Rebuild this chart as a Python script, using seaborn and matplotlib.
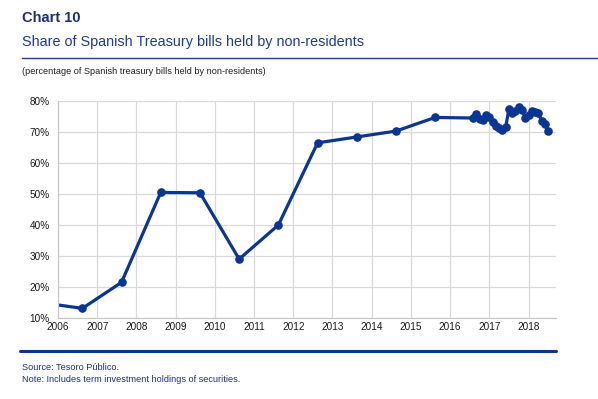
import matplotlib
matplotlib.use("Agg")
import matplotlib.pyplot as plt
import seaborn as sns
import pandas as pd
import numpy as np
from matplotlib.ticker import FuncFormatter

# Data (decimal years, % of Spanish Treasury bills held by non-residents)
years = [2005.62, 2006.62, 2007.62, 2008.62, 2009.62, 2010.62, 2011.62,
         2012.62, 2013.62, 2014.62, 2015.62]
annual_share = [14.9, 13.1, 21.5, 50.5, 50.4, 29.0, 40.0, 66.5, 68.4, 70.3, 74.7]

months_2016_2018 = ["2016-08", "2016-09", "2016-10", "2016-11", "2016-12",
                    "2017-01", "2017-02", "2017-03", "2017-04", "2017-05", "2017-06",
                    "2017-07", "2017-08", "2017-09", "2017-10", "2017-11", "2017-12",
                    "2018-01", "2018-02", "2018-03", "2018-04", "2018-05", "2018-06",
                    "2018-07"]
monthly_share = [74.5, 75.8, 74.3, 73.8, 75.6, 74.8, 73.3, 71.8, 71.2, 70.8, 71.5,
                 77.5, 76.0, 76.8, 78.2, 77.2, 74.6, 75.5, 76.8, 76.5, 76.2, 73.5,
                 72.5, 70.3]

x_ticks = list(range(2006, 2019))
y_ticks = [10, 20, 30, 40, 50, 60, 70, 80]

def month_to_dec(m):
    y, mo = m.split("-")
    return int(y) + (int(mo) - 1) / 12.0

x_all = years + [month_to_dec(m) for m in months_2016_2018]
y_all = annual_share + monthly_share
df = pd.DataFrame({"year": x_all, "share": y_all})

sns.set_style("white")
plt.rcParams["font.family"] = ["Liberation Sans", "DejaVu Sans"]

fig = plt.figure(figsize=(5.98, 3.99), dpi=100)
W, H = 598, 399
ax = fig.add_axes([58 / W, 1 - 318 / H, (556 - 58) / W, (318 - 101) / H])

line_color = "#0b3592"
sns.lineplot(data=df, x="year", y="share", ax=ax, color=line_color,
             linewidth=2.3, marker="o", markersize=6.2, markeredgewidth=0,
             sort=False)

ax.set_xlim(2006, 2018.7)
ax.set_ylim(10, 80)
ax.set_xticks(x_ticks)
ax.set_yticks(y_ticks)
ax.yaxis.set_major_formatter(FuncFormatter(lambda v, p: f"{int(v)}%"))
ax.set_xlabel("")
ax.set_ylabel("")
ax.grid(True, color="#d9d9d9", linewidth=0.9)
ax.set_axisbelow(True)
for s in ["top", "right"]:
    ax.spines[s].set_visible(False)
for s in ["left", "bottom"]:
    ax.spines[s].set_color("#c8c8c8")
    ax.spines[s].set_linewidth(0.9)
ax.tick_params(axis="x", length=0, labelsize=7.2, colors="#1a1a1a", pad=3)
ax.tick_params(axis="y", length=0, labelsize=7.2, colors="#1a1a1a", pad=6)

# Title block
title_color = "#1c2f78"
fig.text(22 / W, 1 - 18 / H, "Chart 10", fontsize=10.5, fontweight="bold",
         color=title_color, va="center", ha="left")
fig.text(22 / W, 1 - 42 / H, "Share of Spanish Treasury bills held by non-residents",
         fontsize=10.4, color="#1f3a9a", va="center", ha="left")
fig.add_artist(plt.Line2D([22 / W, 1.0], [1 - 57.5 / H, 1 - 57.5 / H],
                          color="#1f3a8a", linewidth=1.0, transform=fig.transFigure))
fig.text(22 / W, 1 - 71 / H, "(percentage of Spanish treasury bills held by non-residents)",
         fontsize=6.6, color="#222222", va="center", ha="left")

# Footer
fig.add_artist(plt.Line2D([20 / W, 556 / W], [1 - 351 / H, 1 - 351 / H],
                          color="#0b3592", linewidth=2.2, transform=fig.transFigure))
fig.text(22 / W, 1 - 367 / H, "Source: Tesoro Público.", fontsize=6.6,
         color="#1f2f8a", va="center", ha="left")
fig.text(22 / W, 1 - 379 / H, "Note: Includes term investment holdings of securities.",
         fontsize=6.6, color="#1f2f8a", va="center", ha="left")

fig.savefig("out.png", dpi=100)
